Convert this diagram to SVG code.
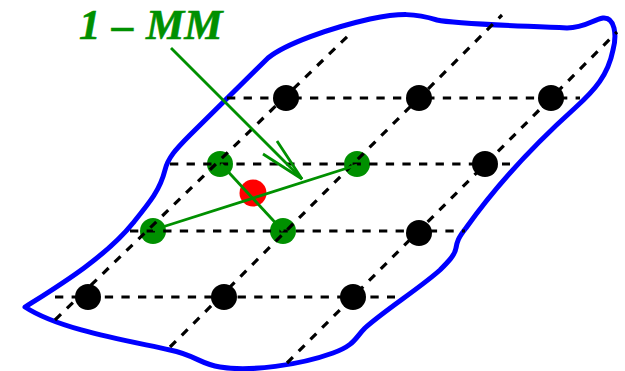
<svg xmlns="http://www.w3.org/2000/svg" width="625" height="371" viewBox="0 0 625 371">
<style>
.dash{stroke:#000;stroke-width:3.2;stroke-dasharray:8.3 8.3;fill:none}
.outline{stroke:#0000ff;stroke-width:5;fill:none;stroke-linejoin:round}
.gl{stroke:#009000;stroke-width:2.8;fill:none}
.blk{fill:#000}
.grn{fill:#009000}
.red{fill:#ff0000}
.lbl{font-family:"Liberation Serif","Times New Roman",serif;font-weight:bold;font-style:italic;font-size:43px;fill:#009000;stroke:#009000;stroke-width:0.6}
</style>
<g id="region">
<path class="outline" d="M 25,307 C 55,288 105,258 133,223 C 150,202 160,190 165,170 C 168,158 175,150 190,135 L 268,58 C 285,44 330,28 370,19 C 400,13 415,13 437,20 C 455,24 500,25 567,28 C 585,28 592,20 603,18 C 615,17 617,35 613,50 C 608,75 595,90 575,108 C 545,135 500,180 466,228 C 458,238 457,242 456,248 C 455,255 448,262 440,270 C 420,288 385,310 365,328 C 355,338 355,345 333,353 C 300,365 250,372 220,367 C 200,364 195,355 170,350 C 130,341 60,330 25,307 Z"/>
</g>
<g id="nodes">
<g id="n11"><circle class="blk" cx="286" cy="98" r="13"/></g>
<g id="n12"><circle class="blk" cx="419" cy="98" r="13"/></g>
<g id="n13"><circle class="blk" cx="551" cy="98" r="13"/></g>
<g id="n21"><circle class="grn" cx="220" cy="164" r="13"/></g>
<g id="n22"><circle class="grn" cx="357" cy="164" r="13"/></g>
<g id="n23"><circle class="blk" cx="485" cy="164" r="13"/></g>
<g id="n31"><circle class="grn" cx="153" cy="231" r="13"/></g>
<g id="n32"><circle class="grn" cx="283" cy="231" r="13"/></g>
<g id="n33"><circle class="blk" cx="419" cy="233" r="13"/></g>
<g id="n41"><circle class="blk" cx="88" cy="297" r="13"/></g>
<g id="n42"><circle class="blk" cx="224" cy="297" r="13"/></g>
<g id="n43"><circle class="blk" cx="353" cy="297" r="13"/></g>
<g id="center"><circle class="red" cx="253" cy="193" r="13.5"/></g>
</g>
<g id="connectors">
<line class="dash" x1="227" y1="98" x2="580" y2="98"/>
<line class="dash" x1="170" y1="164" x2="510" y2="164"/>
<line class="dash" x1="130" y1="231" x2="465" y2="231"/>
<line class="dash" x1="55" y1="297" x2="395" y2="297"/>
<line class="dash" x1="55" y1="320" x2="352" y2="32"/>
<line class="dash" x1="170" y1="347" x2="502" y2="15"/>
<line class="dash" x1="287" y1="363" x2="617" y2="32"/>
<line class="gl" x1="221" y1="164" x2="283" y2="231"/>
<line class="gl" x1="153" y1="230" x2="357" y2="165"/>
<line class="gl" x1="171" y1="48" x2="302" y2="179"/>
<polyline class="gl" points="277,141 302,179 263,154"/>
</g>
<g id="label">
<text class="lbl" y="39"><tspan x="79">1</tspan><tspan x="112">–</tspan><tspan x="146">MM</tspan></text>
</g>
</svg>
